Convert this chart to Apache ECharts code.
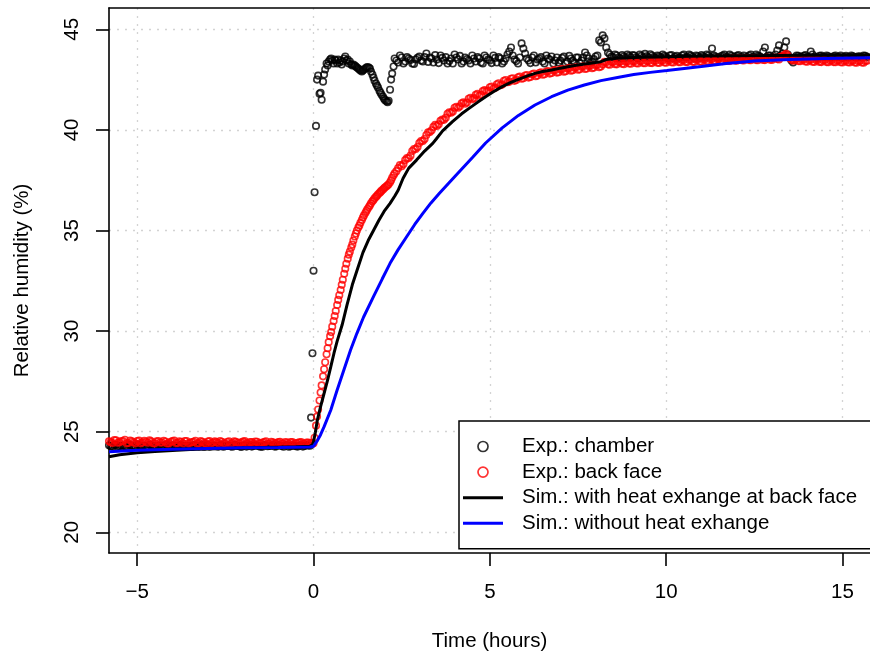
<!DOCTYPE html>
<html>
<head>
<meta charset="utf-8">
<script src="https://cdn.jsdelivr.net/npm/echarts@6/dist/echarts.min.js"></script>
<style>
  html, body { margin: 0; padding: 0; background: #fff; }
  #chart { width: 870px; height: 657px; }
</style>
</head>
<body>
<div id="chart"></div>
<script>
// sampling times of the two sensors (hours)
var expTime = [
  -5.8, -5.7, -5.6, -5.5, -5.4, -5.3, -5.2, -5.1, -5.0, -4.9,
  -4.8, -4.7, -4.6, -4.5, -4.4, -4.3, -4.2, -4.1, -4.0, -3.9,
  -3.8, -3.7, -3.6, -3.5, -3.4, -3.3, -3.2, -3.1, -3.0, -2.9,
  -2.8, -2.7, -2.6, -2.5, -2.4, -2.3, -2.2, -2.1, -2.0, -1.9,
  -1.8, -1.7, -1.6, -1.5, -1.4, -1.3, -1.2, -1.1, -1.0, -0.9,
  -0.8, -0.7, -0.6, -0.5, -0.4, -0.3, -0.2, -0.1,
  -0.07, -0.03,
  0.00, 0.03, 0.07, 0.10, 0.13, 0.17, 0.20, 0.23, 0.27, 0.30,
  0.33, 0.37, 0.40, 0.43, 0.47, 0.50, 0.53, 0.57, 0.60, 0.63,
  0.67, 0.70, 0.73, 0.77, 0.80, 0.83, 0.87, 0.90, 0.93, 0.97,
  1.00, 1.03, 1.07, 1.10, 1.13, 1.17, 1.20, 1.23, 1.27, 1.30,
  1.33, 1.37, 1.40, 1.43, 1.47, 1.50, 1.53, 1.57, 1.60, 1.63,
  1.67, 1.70, 1.73, 1.77, 1.80, 1.83, 1.87, 1.90, 1.93, 1.97,
  2.00, 2.03, 2.07, 2.10, 2.13, 2.17, 2.20, 2.23, 2.27, 2.30,
  2.4, 2.5, 2.6, 2.7, 2.8, 2.9, 3.0, 3.1, 3.2, 3.3,
  3.4, 3.5, 3.6, 3.7, 3.8, 3.9, 4.0, 4.1, 4.2, 4.3,
  4.4, 4.5, 4.6, 4.7, 4.8, 4.9, 5.0, 5.1, 5.2, 5.3,
  5.4, 5.5, 5.6, 5.7, 5.8, 5.9, 6.0, 6.1, 6.2, 6.3,
  6.4, 6.5, 6.6, 6.7, 6.8, 6.9, 7.0, 7.1, 7.2, 7.3,
  7.4, 7.5, 7.6, 7.7, 7.8, 7.9, 8.0, 8.1, 8.2, 8.3,
  8.4, 8.5, 8.6, 8.7, 8.8, 8.9, 9.0, 9.1, 9.2, 9.3,
  9.4, 9.5, 9.6, 9.7, 9.8, 9.9, 10.0, 10.1, 10.2, 10.3,
  10.4, 10.5, 10.6, 10.7, 10.8, 10.9, 11.0, 11.1, 11.2, 11.3,
  11.4, 11.5, 11.6, 11.7, 11.8, 11.9, 12.0, 12.1, 12.2, 12.3,
  12.4, 12.5, 12.6, 12.7, 12.8, 12.9, 13.0, 13.1, 13.2, 13.3,
  13.4, 13.5, 13.6, 13.7, 13.8, 13.9, 14.0, 14.1, 14.2, 14.3,
  14.4, 14.5, 14.6, 14.7, 14.8, 14.9, 15.0, 15.1, 15.2, 15.3,
  15.4, 15.5, 15.6, 15.7
];

// Exp.: chamber (%)
var chamberRH = [
  24.32, 24.26, 24.35, 24.28, 24.30, 24.24, 24.33, 24.29, 24.36, 24.27,
  24.31, 24.25, 24.34, 24.28, 24.30, 24.26, 24.35, 24.29, 24.32, 24.25,
  24.33, 24.28, 24.30, 24.26, 24.34, 24.29, 24.31, 24.25, 24.35, 24.28,
  24.30, 24.26, 24.33, 24.29, 24.32, 24.25, 24.34, 24.28, 24.30, 24.26,
  24.35, 24.29, 24.31, 24.25, 24.33, 24.28, 24.30, 24.26, 24.34, 24.29,
  24.32, 24.25, 24.33, 24.28, 24.30, 24.26, 24.34, 24.30,
  25.7, 28.9,
  33.0, 36.9, 40.2, 42.5, 42.7, 41.8, 41.85, 41.5, 42.4, 42.75,
  43.0, 43.3, 43.2, 43.4, 43.5, 43.55, 43.45, 43.3, 43.5, 43.45,
  43.3, 43.5, 43.35, 43.45, 43.25, 43.4, 43.55, 43.65, 43.45, 43.5,
  43.3, 43.4, 43.25, 43.2, 43.25, 43.2, 43.15, 43.1, 43.05, 43.0,
  42.95, 42.9, 42.95, 43.0, 43.05, 43.1, 43.12, 43.1, 43.05, 42.9,
  42.75, 42.6, 42.45, 42.3, 42.2, 42.1, 41.95, 41.85, 41.75, 41.65,
  41.55, 41.48, 41.42, 41.38, 41.45, 42.0, 42.5, 42.8, 43.15, 43.55,
  43.35, 43.6, 43.4, 43.55, 43.3, 43.5, 43.65, 43.4, 43.8, 43.6,
  43.35, 43.5, 43.7, 43.45, 43.3, 43.55, 43.75, 43.5, 43.3, 43.6,
  43.45, 43.7, 43.4, 43.55, 43.3, 43.6, 43.45, 43.7, 43.35, 43.55,
  43.4, 43.75, 44.1, 43.5, 43.3, 44.3, 43.8, 43.45, 43.6, 43.35,
  43.55, 43.4, 43.7, 43.5, 43.3, 43.6, 43.45, 43.65, 43.4, 43.55,
  43.35, 43.6, 43.45, 43.85, 43.55, 43.4, 43.65, 44.45, 44.7, 44.1,
  43.75, 43.6, 43.7, 43.55, 43.65, 43.75, 43.6, 43.7, 43.55, 43.68,
  43.78, 43.6, 43.7, 43.58, 43.66, 43.75, 43.62, 43.7, 43.56, 43.68,
  43.6, 43.74, 43.62, 43.7, 43.55, 43.66, 43.72, 43.6, 43.7, 44.05,
  43.65, 43.58, 43.7, 43.62, 43.74, 43.6, 43.68, 43.56, 43.7, 43.62,
  43.75, 43.6, 43.68, 43.58, 44.1, 43.7, 43.62, 43.75, 44.2, 43.8,
  44.4, 43.6, 43.35, 43.7, 43.62, 43.68, 43.6, 43.9, 43.65, 43.58,
  43.7, 43.62, 43.66, 43.6, 43.7, 43.64, 43.58, 43.68, 43.62, 43.66,
  43.6, 43.65, 43.7, 43.62
];

// Exp.: back face (%)
var backRH = [
  24.52, 24.44, 24.57, 24.47, 24.54, 24.42, 24.56, 24.46, 24.53, 24.43,
  24.55, 24.45, 24.52, 24.42, 24.54, 24.46, 24.51, 24.43, 24.53, 24.44,
  24.52, 24.42, 24.54, 24.45, 24.5, 24.41, 24.53, 24.44, 24.51, 24.42,
  24.52, 24.43, 24.5, 24.41, 24.52, 24.44, 24.5, 24.42, 24.51, 24.43,
  24.49, 24.41, 24.5, 24.42, 24.49, 24.4, 24.5, 24.42, 24.48, 24.41,
  24.49, 24.4, 24.48, 24.42, 24.47, 24.4, 24.46, 24.41,
  24.45, 24.4,
  24.42, 24.7, 25.3, 25.75, 26.1, 26.55, 26.95, 27.3, 27.75, 28.1,
  28.45, 28.85, 29.15, 29.45, 29.75, 29.95, 30.22, 30.5, 30.75, 31.0,
  31.3, 31.55, 31.78, 32.04, 32.3, 32.55, 32.85, 33.1, 33.35, 33.6,
  33.8, 33.95, 34.15, 34.3, 34.5, 34.7, 34.85, 35.0, 35.15, 35.25,
  35.38, 35.52, 35.65, 35.75, 35.87, 35.97, 36.07, 36.17, 36.25, 36.35,
  36.45, 36.52, 36.6, 36.67, 36.73, 36.8, 36.86, 36.92, 36.98, 37.04,
  37.1, 37.15, 37.2, 37.25, 37.3, 37.4, 37.5, 37.62, 37.75, 37.84,
  38.1, 38.2, 38.5, 38.6, 38.95, 39.05, 39.35, 39.45, 39.75, 39.9,
  40.15, 40.2, 40.45, 40.5, 40.8, 40.85, 41.1, 41.1, 41.32, 41.3,
  41.55, 41.52, 41.74, 41.7, 41.93, 41.92, 42.12, 42.06, 42.27, 42.22,
  42.44, 42.37, 42.54, 42.44, 42.62, 42.54, 42.7, 42.6, 42.77, 42.67,
  42.83, 42.74, 42.9, 42.8, 42.95, 42.85, 43.0, 42.89, 43.05, 42.94,
  43.09, 42.99, 43.14, 43.03, 43.18, 43.07, 43.22, 43.12, 43.27, 43.36,
  43.24, 43.38, 43.26, 43.39, 43.27, 43.4, 43.29, 43.41, 43.3, 43.42,
  43.31, 43.43, 43.32, 43.44, 43.33, 43.45, 43.34, 43.46, 43.35, 43.47,
  43.36, 43.48, 43.37, 43.49, 43.38, 43.5, 43.39, 43.51, 43.4, 43.52,
  43.41, 43.53, 43.42, 43.54, 43.43, 43.55, 43.44, 43.56, 43.45, 43.56,
  43.46, 43.57, 43.46, 43.57, 43.47, 43.58, 43.48, 43.59, 43.5, 43.66,
  43.78, 43.58, 43.44, 43.52, 43.41, 43.5, 43.39, 43.49, 43.38, 43.48,
  43.37, 43.47, 43.36, 43.46, 43.36, 43.46, 43.35, 43.45, 43.35, 43.45,
  43.34, 43.44, 43.34, 43.44
];

// in-between samples of the same two sensors (hours)
var expTimeB = [
  -5.75, -5.65, -5.55, -5.45, -5.35, -5.25, -5.15, -5.05, -4.95, -4.85,
  -4.75, -4.65, -4.55, -4.45, -4.35, -4.25, -4.15, -4.05, -3.95, -3.85,
  -3.75, -3.65, -3.55, -3.45, -3.35, -3.25, -3.15, -3.05, -2.95, -2.85,
  -2.75, -2.65, -2.55, -2.45, -2.35, -2.25, -2.15, -2.05, -1.95, -1.85,
  -1.75, -1.65, -1.55, -1.45, -1.35, -1.25, -1.15, -1.05, -0.95, -0.85,
  -0.75, -0.65, -0.55, -0.45, -0.35, -0.25, -0.15,
  2.35, 2.45, 2.55, 2.65, 2.75, 2.85, 2.95, 3.05, 3.15, 3.25,
  3.35, 3.45, 3.55, 3.65, 3.75, 3.85, 3.95, 4.05, 4.15, 4.25,
  4.35, 4.45, 4.55, 4.65, 4.75, 4.85, 4.95, 5.05, 5.15, 5.25,
  5.35, 5.45, 5.55, 5.65, 5.75, 5.85, 5.95, 6.05, 6.15, 6.25,
  6.35, 6.45, 6.55, 6.65, 6.75, 6.85, 6.95, 7.05, 7.15, 7.25,
  7.35, 7.45, 7.55, 7.65, 7.75, 7.85, 7.95, 8.05, 8.15, 8.25,
  8.35, 8.45, 8.55, 8.65, 8.75, 8.85, 8.95, 9.05, 9.15, 9.25,
  9.35, 9.45, 9.55, 9.65, 9.75, 9.85, 9.95, 10.05, 10.15, 10.25,
  10.35, 10.45, 10.55, 10.65, 10.75, 10.85, 10.95, 11.05, 11.15, 11.25,
  11.35, 11.45, 11.55, 11.65, 11.75, 11.85, 11.95, 12.05, 12.15, 12.25,
  12.35, 12.45, 12.55, 12.65, 12.75, 12.85, 12.95, 13.05, 13.15, 13.25,
  13.35, 13.45, 13.55, 13.65, 13.75, 13.85, 13.95, 14.05, 14.15, 14.25,
  14.35, 14.45, 14.55, 14.65, 14.75, 14.85, 14.95, 15.05, 15.15, 15.25,
  15.35, 15.45, 15.55, 15.65
];
var chamberRHB = [
  24.28, 24.34, 24.25, 24.31, 24.27, 24.36, 24.29, 24.24, 24.33, 24.3,
  24.26, 24.35, 24.28, 24.24, 24.32, 24.29, 24.36, 24.27, 24.31, 24.25,
  24.34, 24.28, 24.3, 24.24, 24.33, 24.27, 24.35, 24.29, 24.26, 24.32,
  24.28, 24.34, 24.25, 24.31, 24.27, 24.35, 24.29, 24.24, 24.33, 24.3,
  24.26, 24.34, 24.28, 24.25, 24.32, 24.29, 24.35, 24.27, 24.31, 24.25,
  24.33, 24.28, 24.3, 24.26, 24.33, 24.29, 24.31,
  43.45, 43.7, 43.3, 43.62, 43.48, 43.28, 43.58, 43.45, 43.62, 43.38,
  43.55, 43.72, 43.32, 43.58, 43.62, 43.42, 43.3, 43.6, 43.68, 43.4,
  43.52, 43.3, 43.55, 43.62, 43.35, 43.7, 43.5, 43.32, 43.58, 43.62,
  43.3, 43.55, 43.9, 43.7, 43.42, 43.6, 44.05, 43.55, 43.32, 43.7,
  43.5, 43.62, 43.3, 43.55, 43.65, 43.45, 43.35, 43.58, 43.3, 43.68,
  43.45, 43.6, 43.32, 43.6, 43.7, 43.35, 43.52, 43.7, 44.35, 44.55,
  43.85, 43.65, 43.75, 43.6, 43.72, 43.58, 43.68, 43.72, 43.6, 43.74,
  43.6, 43.66, 43.76, 43.62, 43.7, 43.6, 43.68, 43.56, 43.72, 43.64,
  43.58, 43.7, 43.6, 43.74, 43.64, 43.7, 43.58, 43.66, 43.74, 43.62,
  43.7, 43.6, 43.66, 43.74, 43.58, 43.68, 43.62, 43.72, 43.64, 43.58,
  43.7, 43.62, 43.74, 43.66, 43.9, 43.62, 43.7, 43.58, 43.95, 43.7,
  44.1, 43.75, 43.45, 43.6, 43.68, 43.6, 43.72, 43.62, 43.75, 43.6,
  43.68, 43.64, 43.7, 43.6, 43.66, 43.62, 43.7, 43.64, 43.6, 43.7,
  43.62, 43.66, 43.6, 43.68
];
var backRHB = [
  24.48, 24.58, 24.45, 24.53, 24.6, 24.44, 24.52, 24.42, 24.56, 24.47,
  24.5, 24.57, 24.43, 24.52, 24.46, 24.55, 24.41, 24.5, 24.56, 24.44,
  24.49, 24.54, 24.42, 24.48, 24.55, 24.43, 24.5, 24.41, 24.53, 24.46,
  24.48, 24.54, 24.42, 24.49, 24.4, 24.52, 24.45, 24.47, 24.53, 24.41,
  24.48, 24.51, 24.42, 24.46, 24.52, 24.4, 24.47, 24.43, 24.5, 24.41,
  24.46, 24.49, 24.4, 24.45, 24.48, 24.41, 24.46,
  37.95, 38.25, 38.3, 38.6, 38.72, 39.05, 39.15, 39.45, 39.55, 39.88,
  39.98, 40.25, 40.28, 40.52, 40.6, 40.88, 40.92, 41.15, 41.18, 41.37,
  41.36, 41.6, 41.58, 41.79, 41.75, 41.98, 41.96, 42.16, 42.1, 42.32,
  42.26, 42.48, 42.4, 42.57, 42.48, 42.65, 42.57, 42.73, 42.63, 42.8,
  42.7, 42.86, 42.77, 42.92, 42.83, 42.97, 42.87, 43.02, 42.92, 43.07,
  42.97, 43.11, 43.01, 43.16, 43.05, 43.2, 43.1, 43.24, 43.15, 43.38,
  43.26, 43.37, 43.27, 43.38, 43.29, 43.4, 43.3, 43.41, 43.31, 43.42,
  43.32, 43.43, 43.33, 43.44, 43.34, 43.45, 43.35, 43.46, 43.36, 43.47,
  43.37, 43.48, 43.38, 43.49, 43.39, 43.5, 43.4, 43.51, 43.41, 43.52,
  43.42, 43.53, 43.43, 43.54, 43.44, 43.55, 43.45, 43.56, 43.46, 43.56,
  43.47, 43.57, 43.47, 43.57, 43.48, 43.58, 43.49, 43.59, 43.52, 43.64,
  43.72, 43.68, 43.5, 43.47, 43.42, 43.49, 43.4, 43.48, 43.39, 43.47,
  43.38, 43.46, 43.37, 43.45, 43.37, 43.45, 43.36, 43.44, 43.36, 43.44,
  43.35, 43.43, 43.35, 43.43
];

// Sim.: with heat exhange at back face
var simWithTime = [
  -5.8, -5.5, -5.0, -4.5, -4.0, -3.5, -3.0, -2.5, -2.0, -1.5,
  -1.0, -0.5, -0.1, -0.03, 0.0, 0.05, 0.11, 0.2, 0.3, 0.4,
  0.49, 0.58, 0.67, 0.81, 0.95, 1.1, 1.23, 1.4, 1.55, 1.7,
  1.85, 2.0, 2.17, 2.3, 2.4, 2.54, 2.7, 2.92, 3.15, 3.38,
  3.48, 3.66, 3.94, 4.2, 4.41, 4.65, 4.88, 5.1, 5.35, 5.58,
  5.81, 6.05, 6.28, 6.5, 6.75, 7.0, 7.21, 7.45, 7.68, 7.9,
  8.15, 8.3, 8.6, 9.08, 10.02, 11.0, 12.0, 13.0, 14.0, 15.78
];
var simWithRH = [
  23.75, 23.85, 23.95, 24.02, 24.07, 24.11, 24.14, 24.17, 24.19, 24.21,
  24.23, 24.25, 24.28, 24.35, 24.5, 24.95, 25.59, 26.25, 26.91, 27.57,
  28.23, 28.9, 29.5, 30.3, 31.3, 32.3, 33.0, 33.9, 34.5, 35.0,
  35.5, 35.95, 36.35, 36.7, 37.0, 37.6, 38.1, 38.5, 38.95, 39.33,
  39.55, 39.95, 40.41, 40.8, 41.07, 41.37, 41.65, 41.9, 42.15, 42.35,
  42.51, 42.67, 42.81, 42.9, 42.98, 43.07, 43.14, 43.21, 43.28, 43.33,
  43.39, 43.5, 43.56, 43.6, 43.64, 43.67, 43.69, 43.7, 43.71, 43.72
];

// Sim.: without heat exhange
var simWithoutTime = [
  -5.8, -5.0, -4.0, -3.0, -2.0, -1.0, -0.1, 0.0, 0.11, 0.2,
  0.3, 0.49, 0.67, 0.86, 1.05, 1.23, 1.42, 1.7, 1.95, 2.17,
  2.4, 2.64, 2.87, 3.1, 3.33, 3.57, 4.04, 4.5, 4.88, 5.35,
  5.81, 6.28, 6.75, 7.21, 7.68, 8.15, 8.62, 9.08, 9.55, 10.02,
  11.0, 11.7, 12.5, 13.5, 14.5, 15.78
];
var simWithoutRH = [
  24.0, 24.08, 24.13, 24.17, 24.2, 24.22, 24.24, 24.28, 24.56, 24.85,
  25.25, 26.08, 27.07, 28.07, 29.06, 29.89, 30.7, 31.71, 32.6, 33.37,
  34.05, 34.69, 35.3, 35.85, 36.37, 36.85, 37.75, 38.62, 39.35, 40.1,
  40.72, 41.24, 41.65, 41.98, 42.23, 42.45, 42.61, 42.75, 42.86, 42.95,
  43.15, 43.3, 43.42, 43.5, 43.55, 43.59
];

var xTicks = [-5, 0, 5, 10, 15];
var yTicks = [20, 25, 30, 35, 40, 45];

var seriesNames = [
  'Exp.: chamber',
  'Exp.: back face',
  'Sim.: with heat exhange at back face',
  'Sim.: without heat exhange'
];

function pairs(xs, ys) {
  var out = [];
  for (var i = 0; i < xs.length; i++) {
    out.push([xs[i], ys[i]]);
  }
  return out;
}

var font = 'Liberation Sans, Arial, sans-serif';
var gridStyle = { color: '#d3d3d3', width: 1.3, type: [2, 6] };
var lineIcon = 'path://M0,0H40V3H0Z';

var chart = echarts.init(document.getElementById('chart'), null, { renderer: 'canvas' });

var option = {
  animation: false,
  backgroundColor: '#fff',
  textStyle: { fontFamily: font },
  grid: { left: 109, top: 8, right: -9, bottom: 104, containLabel: false },
  xAxis: [{
    type: 'value',
    min: -5.8,
    max: 15.78,
    name: 'Time (hours)',
    nameLocation: 'middle',
    nameGap: 78,
    nameTextStyle: { fontSize: 20.5, color: '#000', fontFamily: font },
    axisLine: { show: true, onZero: false, lineStyle: { color: '#000', width: 1.6 } },
    axisTick: { show: true, length: 13, customValues: xTicks, lineStyle: { color: '#000', width: 1.6 } },
    axisLabel: {
      show: true, margin: 29, fontSize: 20.5, color: '#000', fontFamily: font,
      customValues: xTicks,
      formatter: function (v) { return String(v).replace('-', '\u2212'); }
    },
    splitLine: { show: true, lineStyle: gridStyle }
  }, {
    type: 'value',
    position: 'top',
    min: -5.8,
    max: 15.78,
    axisLine: { show: true, onZero: false, lineStyle: { color: '#000', width: 1.6 } },
    axisTick: { show: false },
    axisLabel: { show: false },
    splitLine: { show: false }
  }],
  yAxis: [{
    type: 'value',
    min: 18.97,
    max: 46.06,
    name: 'Relative humidity (%)',
    nameLocation: 'middle',
    nameGap: 76,
    nameRotate: 90,
    nameTextStyle: { fontSize: 20.5, color: '#000', fontFamily: font },
    axisLine: { show: true, onZero: false, lineStyle: { color: '#000', width: 1.6 } },
    axisTick: { show: true, length: 13, customValues: yTicks, lineStyle: { color: '#000', width: 1.6 } },
    axisLabel: {
      show: true, rotate: 90, margin: 26, fontSize: 20.5, color: '#000', fontFamily: font,
      customValues: yTicks
    },
    splitLine: { show: true, lineStyle: gridStyle }
  }],
  legend: {
    orient: 'vertical',
    left: 459,
    top: 421,
    padding: [15, 60, 15, 4],
    itemGap: 4.6,
    itemWidth: 40,
    itemHeight: 10,
    backgroundColor: '#fff',
    borderColor: '#000',
    borderWidth: 1.5,
    borderRadius: 0,
    selectedMode: false,
    textStyle: { fontSize: 20.5, color: '#000', fontFamily: font, padding: [0, 0, 0, 14] },
    data: [
      { name: seriesNames[0], icon: 'circle', itemStyle: { color: 'rgba(0,0,0,0)', borderColor: '#000', borderWidth: 1.7 } },
      { name: seriesNames[1], icon: 'circle', itemStyle: { color: 'rgba(0,0,0,0)', borderColor: '#ff0000', borderWidth: 1.7 } },
      { name: seriesNames[2], icon: lineIcon, itemStyle: { color: '#000', borderWidth: 0 } },
      { name: seriesNames[3], icon: lineIcon, itemStyle: { color: '#0000ff', borderWidth: 0 } }
    ]
  },
  series: [{
    name: seriesNames[0],
    type: 'scatter',
    symbol: 'circle',
    symbolSize: 6.5,
    itemStyle: { color: 'rgba(0,0,0,0)', borderColor: '#000', borderWidth: 1.6 },
    data: pairs(expTime, chamberRH).concat(pairs(expTimeB, chamberRHB))
  }, {
    name: seriesNames[1],
    type: 'scatter',
    symbol: 'circle',
    symbolSize: 6.5,
    itemStyle: { color: 'rgba(0,0,0,0)', borderColor: '#ff0000', borderWidth: 1.6 },
    data: pairs(expTime, backRH).concat(pairs(expTimeB, backRHB))
  }, {
    name: seriesNames[2],
    type: 'line',
    showSymbol: false,
    symbol: 'none',
    smooth: false,
    color: '#000',
    lineStyle: { color: '#000', width: 3 },
    data: pairs(simWithTime, simWithRH)
  }, {
    name: seriesNames[3],
    type: 'line',
    showSymbol: false,
    symbol: 'none',
    smooth: false,
    color: '#0000ff',
    lineStyle: { color: '#0000ff', width: 3 },
    data: pairs(simWithoutTime, simWithoutRH)
  }]
};

chart.setOption(option);
</script>
</body>
</html>
